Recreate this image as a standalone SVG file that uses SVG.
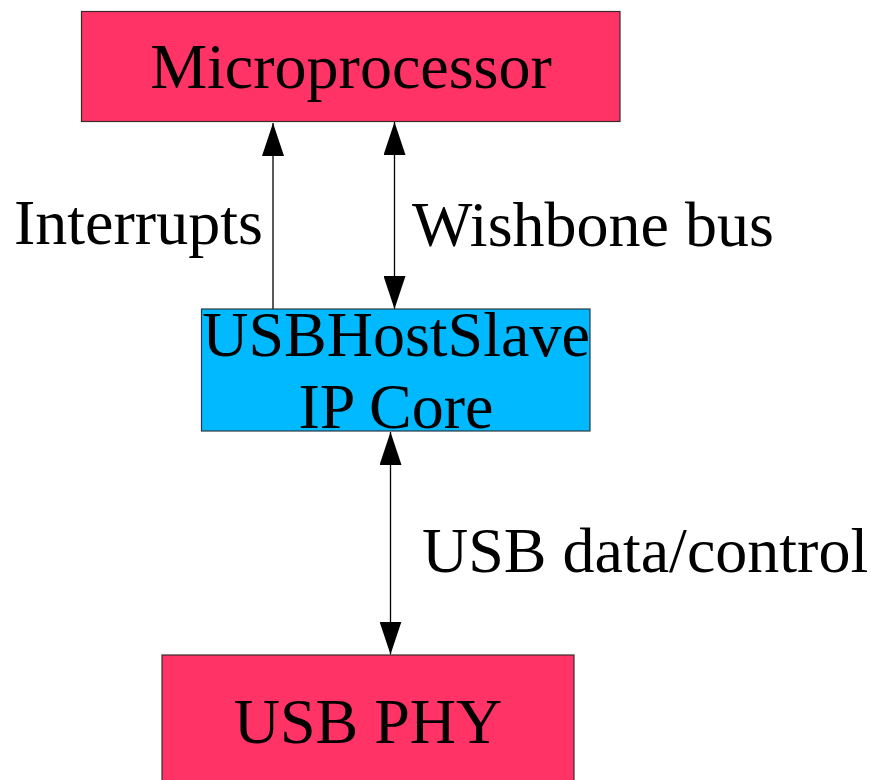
<svg xmlns="http://www.w3.org/2000/svg" width="871" height="780" viewBox="0 0 871 780">
  <defs>
    <marker id="arrow" markerUnits="userSpaceOnUse" viewBox="0 0 33 22" markerWidth="33" markerHeight="22" refX="33" refY="11" orient="auto-start-reverse">
      <path d="M0,0 L33,11 L0,22 z" fill="#000"/>
    </marker>
  </defs>
  <style>
    .txt { font-family: "Liberation Serif", "Times New Roman", serif; font-size: 64px; fill: #000; }
    .mid { text-anchor: middle; }
    .red { fill: #FF3366; stroke: #3a2a2a; stroke-width: 1.2; }
    .blue { fill: #00B9FF; stroke: #2a3a44; stroke-width: 1.2; }
    .conn { stroke: #000; stroke-width: 1.3; fill: none; }
  </style>
  <rect width="871" height="780" fill="#fff"/>

  <g id="connectors">
    <line class="conn" x1="273" y1="309" x2="273" y2="123" marker-end="url(#arrow)"/>
    <line class="conn" x1="394.5" y1="122" x2="394.5" y2="309" marker-start="url(#arrow)" marker-end="url(#arrow)"/>
    <line class="conn" x1="390.5" y1="432" x2="390.5" y2="654.5" marker-start="url(#arrow)" marker-end="url(#arrow)"/>
    <text class="txt" x="14" y="244">Interrupts</text>
    <text class="txt" x="412" y="246">Wishbone bus</text>
    <text class="txt" x="422" y="572">USB data/control</text>
  </g>

  <g id="microprocessor">
    <rect class="red" x="81.5" y="11.5" width="538.5" height="110"/>
    <text class="txt mid" x="351" y="88">Microprocessor</text>
  </g>

  <g id="usbhostslave">
    <rect class="blue" x="201.5" y="309" width="388.5" height="122"/>
    <text class="txt mid" x="396" y="356">USBHostSlave</text>
    <text class="txt mid" x="396" y="428">IP Core</text>
  </g>

  <g id="usbphy">
    <rect class="red" x="162" y="655" width="412" height="130"/>
    <text class="txt mid" x="368" y="743">USB PHY</text>
  </g>
</svg>
